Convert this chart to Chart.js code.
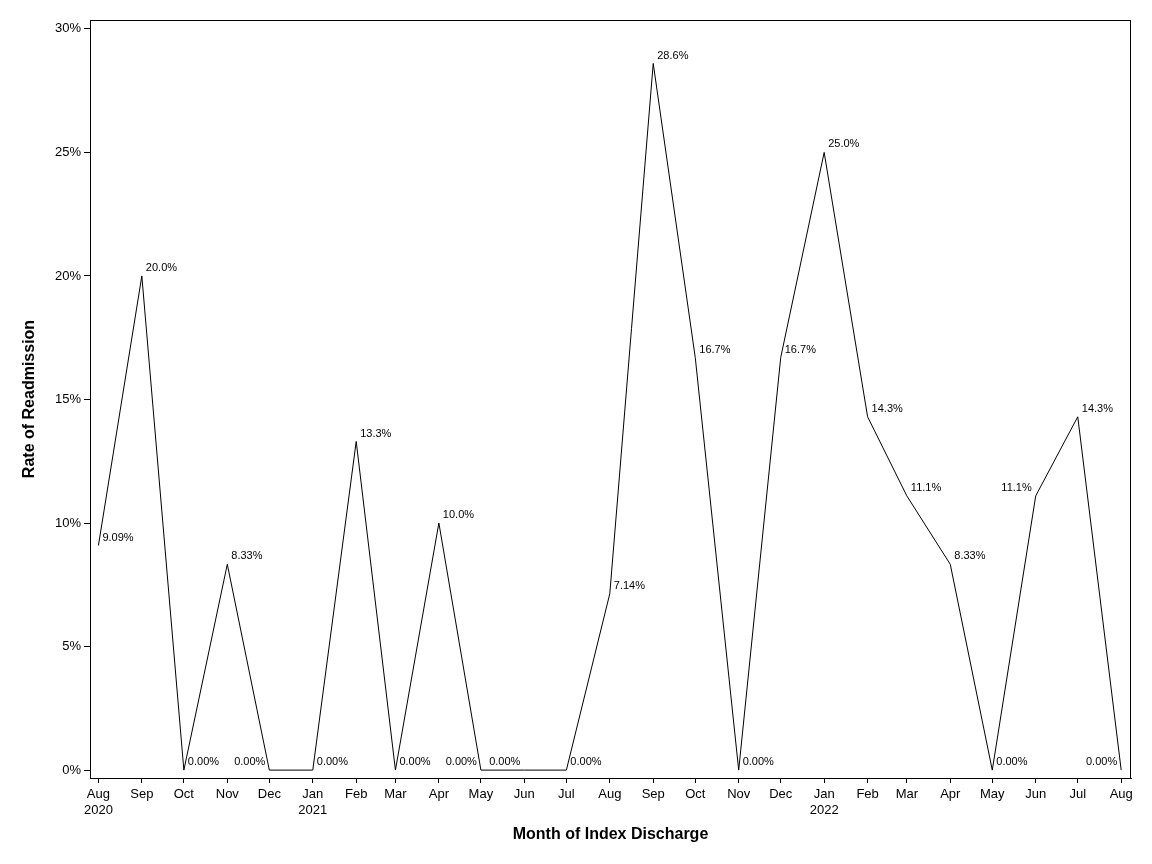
<!DOCTYPE html>
<html>
<head>
<meta charset="utf-8">
<script src="https://cdn.jsdelivr.net/npm/chart.js@4/dist/chart.umd.min.js"></script>
<style>
  html, body { margin: 0; padding: 0; background: #fff; }
  #wrap { width: 1152px; height: 864px; position: relative; }
</style>
</head>
<body>
<div id="wrap"><canvas id="chart"></canvas></div>
<script>
// month of index discharge (first day of month)
const monthStarts = [
    '2020-08', '2020-09', '2020-10', '2020-11', '2020-12',
    '2021-01', '2021-02', '2021-03', '2021-04', '2021-05', '2021-06', '2021-07',
    '2021-08', '2021-09', '2021-10', '2021-11', '2021-12',
    '2022-01', '2022-02', '2022-03', '2022-04', '2022-05', '2022-06', '2022-07', '2022-08'
];
const monthNames = ['Jan', 'Feb', 'Mar', 'Apr', 'May', 'Jun', 'Jul', 'Aug', 'Sep', 'Oct', 'Nov', 'Dec'];

// readmission rate, percent
const rates = [
    9.09, 20.0, 0, 8.33, 0,
    0, 13.3, 0, 10.0, 0, 0, 0,
    7.14, 28.6, 16.7, 0, 16.7,
    25.0, 14.3, 11.1, 8.33, 0, 11.1, 14.3, 0
];

// which side of the point each value label sits on
const labelSide = [
    'r', 'r', 'r', 'r', 'l',
    'r', 'r', 'r', 'r', 'l', 'l', 'r',
    'r', 'r', 'r', 'r', 'r',
    'r', 'r', 'r', 'r', 'r', 'l', 'r', 'l'
];

const yTicks = [0, 5, 10, 15, 20, 25, 30];

const DAY = 86400000;
const parsed = monthStarts.map(s => s.split('-').map(Number));
const day0 = Date.UTC(parsed[0][0], parsed[0][1] - 1, 1) / DAY;
const xs = parsed.map(([y, m]) => Date.UTC(y, m - 1, 1) / DAY - day0);

const FONT = "'Liberation Sans', Arial, sans-serif";

const frame = {
    id: 'frame',
    afterDraw(chart) {
        const { ctx, chartArea: a } = chart;
        ctx.save();
        ctx.strokeStyle = '#000';
        ctx.lineWidth = 1;
        ctx.strokeRect(Math.round(a.left) + 0.5, Math.round(a.top) + 0.5,
            Math.round(a.right - a.left) - 1, Math.round(a.bottom - a.top));
        ctx.restore();
    }
};

const valueLabels = {
    id: 'valueLabels',
    afterDatasetsDraw(chart) {
        const ctx = chart.ctx;
        const meta = chart.getDatasetMeta(0);
        ctx.save();
        ctx.font = `11px ${FONT}`;
        ctx.fillStyle = '#000';
        ctx.textBaseline = 'middle';
        meta.data.forEach((pt, i) => {
            const txt = rates[i].toPrecision(3) + '%';
            if (labelSide[i] === 'l') {
                ctx.textAlign = 'right';
                ctx.fillText(txt, pt.x - 4, pt.y - 8);
            } else {
                ctx.textAlign = 'left';
                ctx.fillText(txt, pt.x + 4, pt.y - 8);
            }
        });
        ctx.restore();
    }
};

new Chart(document.getElementById('chart'), {
    type: 'line',
    data: {
        datasets: [{
            data: xs.map((x, i) => ({ x: x, y: rates[i] })),
            borderColor: '#000',
            borderWidth: 1,
            pointRadius: 0,
            tension: 0,
            fill: false,
        }]
    },
    options: {
        responsive: true,
        maintainAspectRatio: false,
        animation: false,
        layout: { padding: { top: 20, right: 21, left: 0, bottom: 0 } },
        plugins: {
            legend: { display: false },
            tooltip: { enabled: false },
        },
        scales: {
            x: {
                type: 'linear',
                min: xs[0] - 6,
                max: xs[xs.length - 1] + 7,
                afterBuildTicks: (scale) => { scale.ticks = xs.map(v => ({ value: v })); },
                afterFit: (scale) => { scale.height = 86; },
                grid: { drawOnChartArea: false, drawTicks: true, tickLength: 5, color: '#000' },
                border: { display: true, color: '#000' },
                ticks: {
                    autoSkip: false,
                    maxRotation: 0,
                    padding: 3,
                    color: '#000',
                    font: { family: FONT, size: 13, lineHeight: 1.25 },
                    callback: (value, index) => {
                        const [y, m] = parsed[index];
                        const name = monthNames[m - 1];
                        return (index === 0 || m === 1) ? [name, String(y)] : name;
                    }
                },
                title: {
                    display: true,
                    text: 'Month of Index Discharge',
                    color: '#000',
                    font: { family: FONT, size: 16, weight: 'bold' },
                    padding: { top: 0, bottom: 20 },
                }
            },
            y: {
                min: -0.32,
                max: 30.36,
                afterBuildTicks: (scale) => { scale.ticks = yTicks.map(v => ({ value: v })); },
                afterFit: (scale) => { scale.width = 90; },
                grid: { drawOnChartArea: false, drawTicks: true, tickLength: 6, color: '#000' },
                border: { display: true, color: '#000' },
                ticks: {
                    padding: 3,
                    color: '#000',
                    font: { family: FONT, size: 13 },
                    callback: (v) => v + '%'
                },
                title: {
                    display: true,
                    text: 'Rate of Readmission',
                    color: '#000',
                    font: { family: FONT, size: 16, weight: 'bold' },
                    padding: { top: 20, bottom: 0 },
                }
            }
        }
    },
    plugins: [frame, valueLabels],
});
</script>
</body>
</html>
